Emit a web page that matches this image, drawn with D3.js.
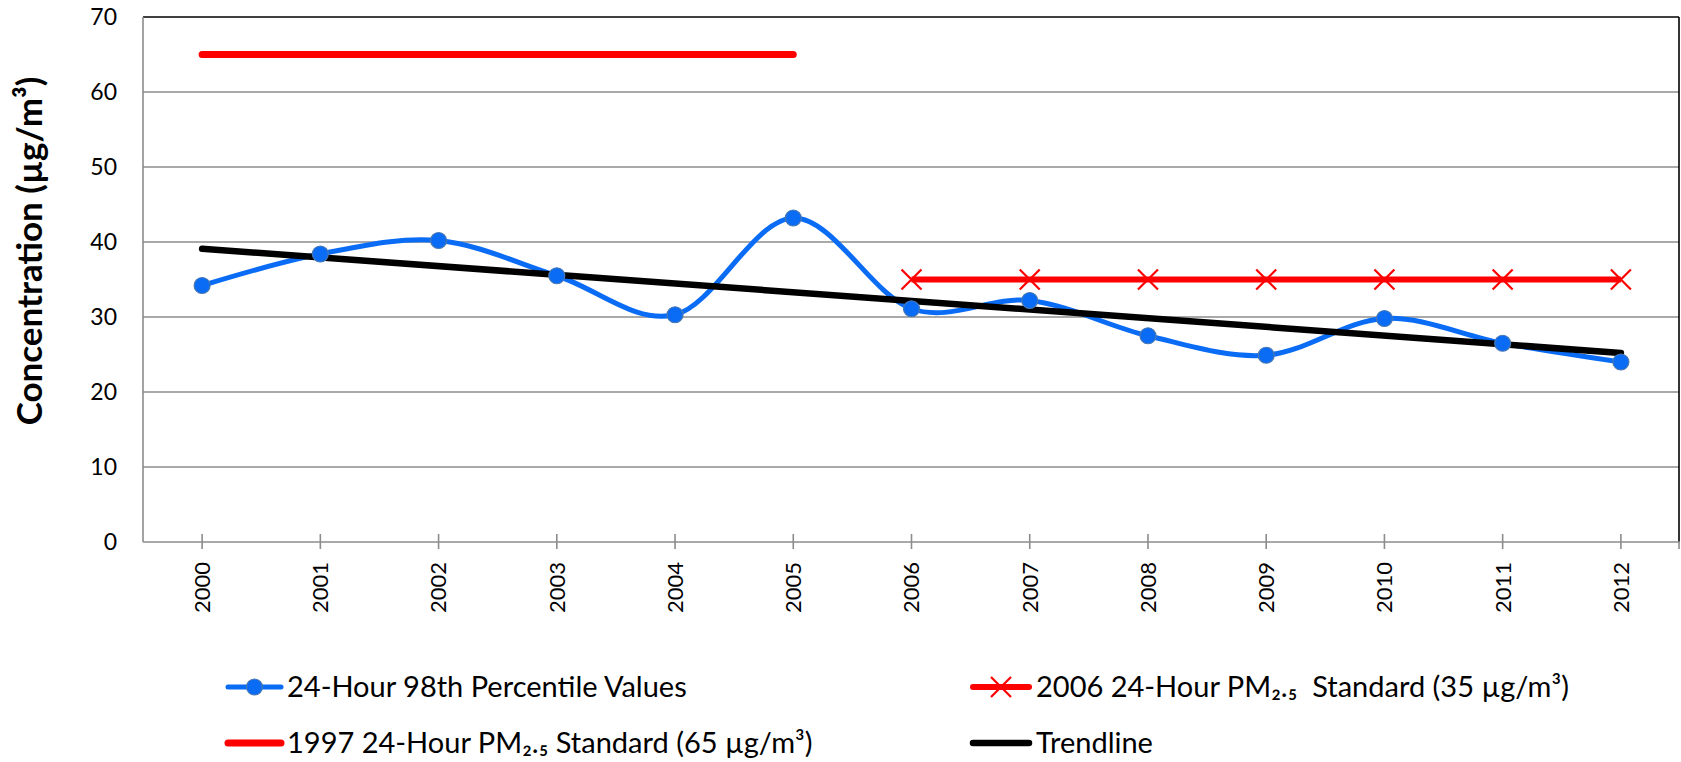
<!DOCTYPE html>
<html><head><meta charset="utf-8">
<script src="https://cdn.jsdelivr.net/npm/d3@7/dist/d3.min.js"></script>
<style>html,body{margin:0;padding:0;background:#fff;}svg{display:block;}text{white-space:pre;}</style>
</head><body>
<svg id="chart" width="1681" height="762"></svg>
<script>
const years = ["2000","2001","2002","2003","2004","2005","2006","2007","2008","2009","2010","2011","2012"];
const percentileValues = [34.2,38.4,40.2,35.5,30.3,43.2,31.1,32.2,27.5,24.9,29.8,26.5,24.0];
const std1997Years = ["2000","2005"];
const std1997Values = [65,65];
const std2006Years = ["2006","2007","2008","2009","2010","2011","2012"];
const std2006Values = [35,35,35,35,35,35,35];
const trendYears = ["2000","2012"];
const trendValues = [39.1,25.2];
const yTicks = [0,10,20,30,40,50,60,70];
const yLabel = "Concentration (µg/m³)";
const legendLabels = ["24-Hour 98th Percentile Values","2006 24-Hour PM₂.₅  Standard (35 µg/m³)","1997 24-Hour PM₂.₅ Standard (65 µg/m³)","Trendline"];

const svg = d3.select("#chart");
const L = 143, R = 1680, T = 17, B = 542;
const font = "Lato, 'Open Sans', sans-serif";
const x = d3.scaleBand().domain(years).range([L, R]).padding(0);
const cx = d => x(d) + x.bandwidth()/2;
const y = d3.scaleLinear().domain([0,70]).range([B, T]);

// gridlines
svg.append("g").selectAll("line").data(yTicks.filter(t=>t>0 && t<70)).join("line")
  .attr("x1", L).attr("x2", R-1).attr("y1", d=>y(d)).attr("y2", d=>y(d))
  .attr("stroke", "#8c8c8c").attr("stroke-width", 1.6);
// borders
svg.append("line").attr("x1",L).attr("x2",R-1).attr("y1",y(70)).attr("y2",y(70)).attr("stroke","#000").attr("stroke-width",1.6);
svg.append("line").attr("x1",R-1).attr("x2",R-1).attr("y1",T).attr("y2",B).attr("stroke","#000").attr("stroke-width",1.6);
svg.append("line").attr("x1",L).attr("x2",L).attr("y1",T).attr("y2",B).attr("stroke","#8c8c8c").attr("stroke-width",1.6);
svg.append("line").attr("x1",L).attr("x2",R).attr("y1",B).attr("y2",B).attr("stroke","#8c8c8c").attr("stroke-width",1.6);
// x ticks
svg.append("g").selectAll("line").data(years).join("line")
  .attr("x1", d=>cx(d)).attr("x2", d=>cx(d)).attr("y1", B-8).attr("y2", B+7)
  .attr("stroke","#8c8c8c").attr("stroke-width",1.6);
svg.append("line").attr("x1",R-1).attr("x2",R-1).attr("y1",B).attr("y2",B+7).attr("stroke","#8c8c8c").attr("stroke-width",1.6);

// y tick labels
svg.append("g").selectAll("text").data(yTicks).join("text")
  .attr("x", 117).attr("y", d=>y(d)).attr("dy","0.36em").attr("text-anchor","end")
  .attr("font-family", font).attr("font-size", 23).attr("fill","#000").text(d=>d);
// x tick labels
svg.append("g").selectAll("text").data(years).join("text")
  .attr("transform", d=>`translate(${cx(d)},${B+20}) rotate(-90)`)
  .attr("text-anchor","end").attr("dy","0.36em")
  .attr("font-family", font).attr("font-size", 22).attr("fill","#000").text(d=>d);
// y axis label
svg.append("text").attr("transform", `translate(29,${(425+77)/2}) rotate(-90)`)
  .attr("text-anchor","middle").attr("dy","0.36em")
  .attr("font-family", font).attr("font-weight","bold").attr("font-size", 35).attr("fill","#000").text(yLabel);

const blue = "#0a6cf5", red = "#ff0000";
// 1997 standard
svg.append("path").datum(std1997Years.map((d,i)=>[cx(d), y(std1997Values[i])]))
  .attr("d", d3.line()).attr("stroke", red).attr("stroke-width", 7).attr("stroke-linecap","round").attr("fill","none");
// 2006 standard
svg.append("path").datum(std2006Years.map((d,i)=>[cx(d), y(std2006Values[i])]))
  .attr("d", d3.line()).attr("stroke", red).attr("stroke-width", 6).attr("fill","none");
const xMark = (g, px, py, s) => {
  g.append("path").attr("d", `M${px-s},${py-s}L${px+s},${py+s}M${px-s},${py+s}L${px+s},${py-s}`)
    .attr("stroke", red).attr("stroke-width", 2.2).attr("fill","none");
};
const xg = svg.append("g");
std2006Years.forEach((d,i)=>xMark(xg, cx(d), y(std2006Values[i]), 10));

// percentile smooth line
svg.append("path").datum(years.map((d,i)=>[cx(d), y(percentileValues[i])]))
  .attr("d", d3.line().curve(d3.curveCardinal.tension(0))).attr("stroke", blue).attr("stroke-width", 5).attr("fill","none");
// trendline
svg.append("path").datum(trendYears.map((d,i)=>[cx(d), y(trendValues[i])]))
  .attr("d", d3.line()).attr("stroke", "#000").attr("stroke-width", 6.5).attr("stroke-linecap","round").attr("fill","none");
// markers
svg.append("g").selectAll("circle").data(years).join("circle")
  .attr("cx", d=>cx(d)).attr("cy", (d,i)=>y(percentileValues[i])).attr("r", 8)
  .attr("fill", blue).attr("stroke", "#4a78b0").attr("stroke-width", 1.2);

// legend
const lg = svg.append("g");
const rows = [687, 743];
const cols = [[228,281,287],[973,1029,1036]];
lg.append("line").attr("x1",cols[0][0]).attr("x2",cols[0][1]).attr("y1",rows[0]).attr("y2",rows[0]).attr("stroke",blue).attr("stroke-width",5).attr("stroke-linecap","round");
lg.append("circle").attr("cx",(cols[0][0]+cols[0][1])/2).attr("cy",rows[0]).attr("r",8).attr("fill",blue).attr("stroke","#4a78b0").attr("stroke-width",1.2);
lg.append("line").attr("x1",cols[1][0]).attr("x2",cols[1][1]).attr("y1",rows[0]).attr("y2",rows[0]).attr("stroke",red).attr("stroke-width",6).attr("stroke-linecap","round");
xMark(lg, (cols[1][0]+cols[1][1])/2, rows[0], 10);
lg.append("line").attr("x1",cols[0][0]).attr("x2",cols[0][1]).attr("y1",rows[1]).attr("y2",rows[1]).attr("stroke",red).attr("stroke-width",7).attr("stroke-linecap","round");
lg.append("line").attr("x1",cols[1][0]).attr("x2",cols[1][1]).attr("y1",rows[1]).attr("y2",rows[1]).attr("stroke","#000").attr("stroke-width",6.5).attr("stroke-linecap","round");
const pos = [[cols[0][2],rows[0]],[cols[1][2],rows[0]],[cols[0][2],rows[1]],[cols[1][2],rows[1]]];
lg.selectAll("text").data(legendLabels).join("text")
  .attr("x",(d,i)=>pos[i][0]).attr("y",(d,i)=>pos[i][1]).attr("dy","0.36em")
  .attr("font-family", font).attr("font-size", 29).attr("fill","#000").text(d=>d);
</script>
</body></html>
